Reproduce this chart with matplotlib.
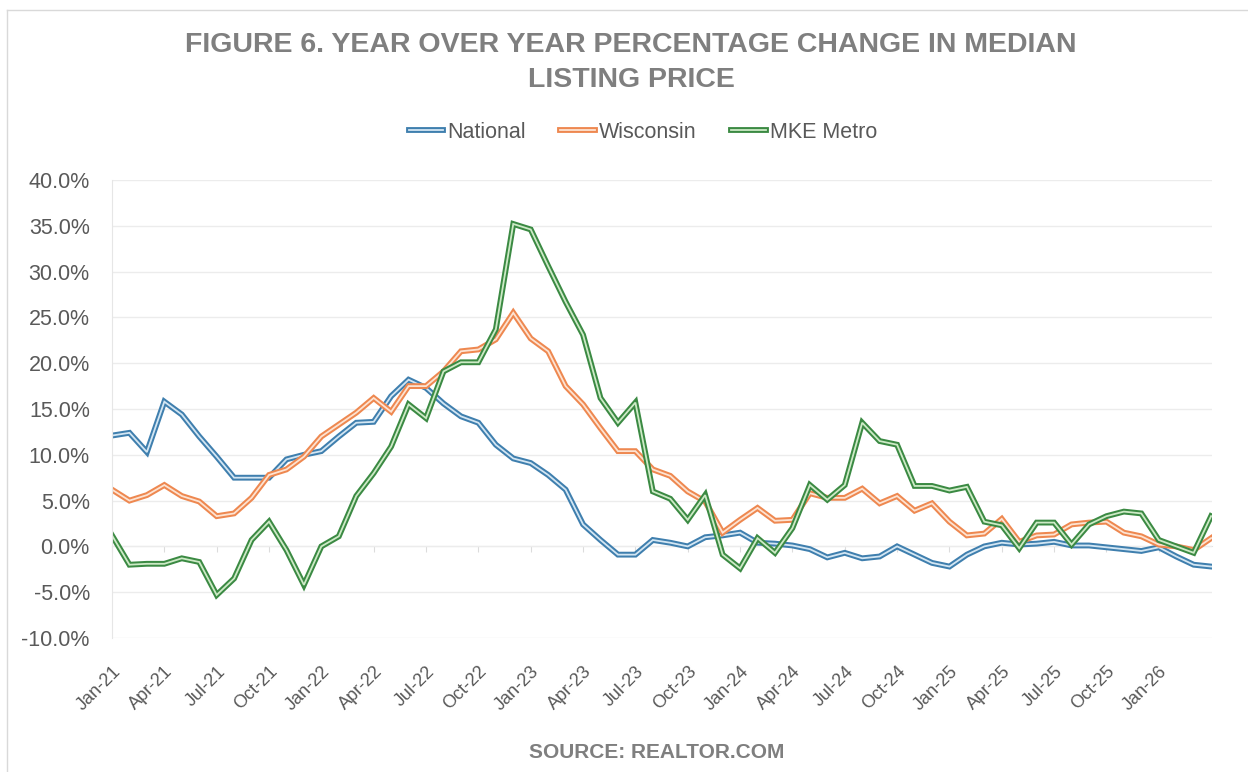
import matplotlib
matplotlib.use("Agg")
import matplotlib.pyplot as plt
import matplotlib.patheffects as pe
from matplotlib.ticker import FuncFormatter

# Meses Jan-21 .. Apr-26
months = ["Jan", "Feb", "Mar", "Apr", "May", "Jun",
          "Jul", "Aug", "Sep", "Oct", "Nov", "Dec"]
dates = [f"{months[i % 12]}-{21 + i // 12}" for i in range(64)]

# etiquetas del eje x (cada 3 meses, hasta Jan-26)
tick_labels = ["Jan-21", "Apr-21", "Jul-21", "Oct-21", "Jan-22", "Apr-22",
               "Jul-22", "Oct-22", "Jan-23", "Apr-23", "Jul-23", "Oct-23",
               "Jan-24", "Apr-24", "Jul-24", "Oct-24", "Jan-25", "Apr-25",
               "Jul-25", "Oct-25", "Jan-26"]

national = [12.1, 12.4, 10.3, 15.8, 14.4, 12.0, 9.8, 7.5, 7.5, 7.5,
            9.5, 10.0, 10.4, 12.0, 13.5, 13.6, 16.4, 18.2, 17.3, 15.6,
            14.2, 13.5, 11.1, 9.6, 9.1, 7.8, 6.2, 2.4, 0.7, -0.9,
            -0.9, 0.7, 0.4, 0.0, 1.0, 1.2, 1.5, 0.4, 0.3, 0.1,
            -0.3, -1.2, -0.7, -1.3, -1.1, 0.0, -0.9, -1.8, -2.2, -0.9,
            0.0, 0.4, 0.2, 0.3, 0.5, 0.1, 0.1, -0.1, -0.3, -0.5,
            -0.1, -1.1, -2.0, -2.2]

wisconsin = [6.2, 5.0, 5.6, 6.7, 5.5, 4.9, 3.3, 3.6, 5.3, 7.8,
             8.4, 9.8, 12.0, 13.3, 14.6, 16.2, 14.7, 17.5, 17.5, 19.1,
             21.3, 21.5, 22.6, 25.5, 22.7, 21.3, 17.5, 15.5, 12.9, 10.4,
             10.4, 8.4, 7.7, 6.0, 4.9, 1.5, 2.9, 4.2, 2.8, 2.9,
             5.8, 5.3, 5.3, 6.3, 4.7, 5.5, 3.9, 4.7, 2.7, 1.2,
             1.4, 3.0, 0.5, 1.2, 1.3, 2.4, 2.6, 2.7, 1.5, 1.1,
             0.2, 0.0, -0.4, 0.9]

mke_metro = [1.2, -2.0, -1.9, -1.9, -1.3, -1.7, -5.3, -3.5, 0.7, 2.7,
             -0.4, -4.2, 0.0, 1.1, 5.5, 8.0, 10.9, 15.5, 14.0, 19.1,
             20.1, 20.1, 23.7, 35.2, 34.6, 30.6, 26.7, 23.1, 16.2, 13.5,
             15.7, 6.0, 5.2, 2.9, 5.6, -0.9, -2.4, 0.9, -0.7, 2.0,
             6.7, 5.1, 6.7, 13.5, 11.5, 11.1, 6.6, 6.6, 6.1, 6.5,
             2.7, 2.3, -0.2, 2.6, 2.6, 0.2, 2.4, 3.3, 3.8, 3.6,
             0.7, 0.0, -0.7, 3.3]

series = [("National", national, "#3f7fae", "#d3e6f3"),
          ("Wisconsin", wisconsin, "#ee8850", "#fde3d2"),
          ("MKE Metro", mke_metro, "#3b8a43", "#cdeac6")]

grey = "#595959"
plt.rcParams["font.family"] = ["Liberation Sans", "DejaVu Sans"]

fig = plt.figure(figsize=(12.48, 7.72), dpi=100)
ax = fig.add_axes([112 / 1248, 1 - 638 / 772, 1100 / 1248, 458 / 772])

x = list(range(len(dates)))
for name, vals, col, inner in series:
    # linea doble tipo Excel: borde de color y centro claro
    ax.plot(x, vals, color=inner, lw=1.3, label=name, solid_joinstyle="miter",
            path_effects=[pe.Stroke(linewidth=4.2, foreground=col), pe.Normal()])

ax.set_xlim(0, len(dates) - 1 + 0.05)
ax.set_ylim(-10, 40)
ax.set_yticks(range(-10, 41, 5))
ax.yaxis.set_major_formatter(FuncFormatter(lambda v, p: f"{v:.1f}%"))
ax.tick_params(axis="y", length=0, pad=16, labelsize=15.5, labelcolor=grey)

tick_pos = x[:3 * len(tick_labels):3]
ax.set_xticks(tick_pos)
ax.set_xticklabels(tick_labels, rotation=45, ha="right", va="top",
                   rotation_mode="anchor")
ax.tick_params(axis="x", length=0, pad=18, labelsize=13, labelcolor=grey)

ax.grid(axis="y", color="#ececec", lw=1)
ax.set_axisbelow(True)
for s in ["top", "right", "bottom"]:
    ax.spines[s].set_visible(False)
ax.spines["left"].set_color("#e6e6e6")

# eje horizontal en 0% con marcas
sec = ax.secondary_xaxis(0.2)
sec.set_xticks(tick_pos)
sec.set_xticklabels([])
sec.tick_params(axis="x", length=4, color="#dcdcdc", direction="out")
sec.spines["bottom"].set_color("#e2e2e2")

fig.text(631 / 1248, 1 - 45 / 772,
         "FIGURE 6. YEAR OVER YEAR PERCENTAGE CHANGE IN MEDIAN",
         ha="center", va="center", fontsize=20.5, fontweight="bold", color="#7f7f7f")
fig.text(631 / 1248, 1 - 80 / 772, "LISTING PRICE",
         ha="center", va="center", fontsize=20.5, fontweight="bold", color="#7f7f7f")

fig.legend(loc="center", bbox_to_anchor=(643 / 1248, 1 - 132 / 772), ncol=3,
           frameon=False, fontsize=15.5, labelcolor=grey, handlelength=1.6,
           handletextpad=0.2, columnspacing=1.6)

fig.text(657 / 1248, 1 - 752 / 772, "SOURCE: REALTOR.COM", ha="center",
         va="center", fontsize=15, fontweight="bold", color="#7f7f7f")

# borde del area del grafico
fig.add_artist(plt.Line2D([7 / 1248, 7 / 1248], [0, 1 - 10 / 772],
                          transform=fig.transFigure, color="#d9d9d9", lw=1))
fig.add_artist(plt.Line2D([7 / 1248, 1], [1 - 10 / 772, 1 - 10 / 772],
                          transform=fig.transFigure, color="#d9d9d9", lw=1))

fig.savefig("out.png", dpi=100)
